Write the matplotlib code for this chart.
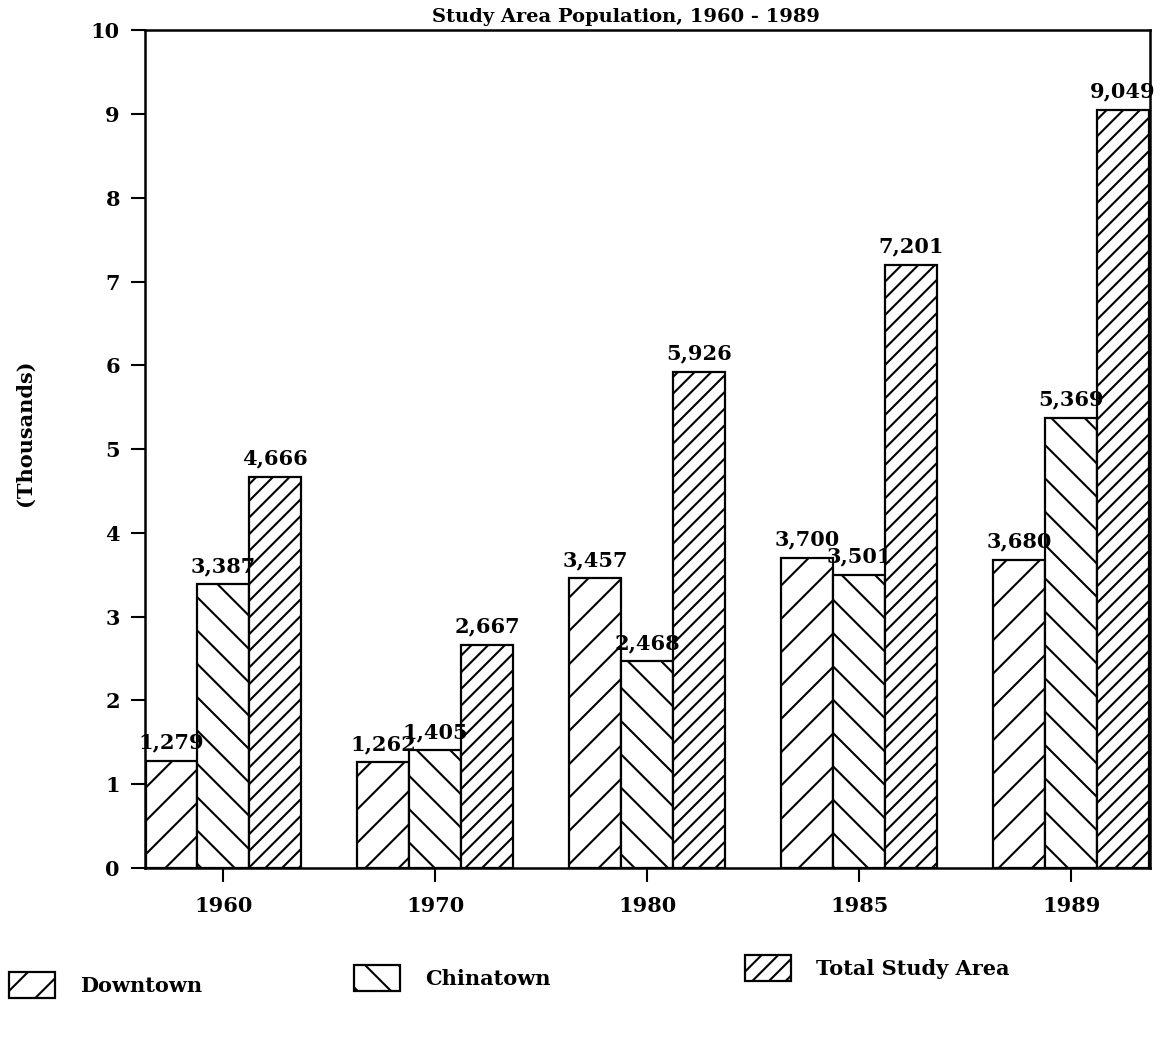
import numpy as np
import matplotlib
matplotlib.use("Agg")
import matplotlib.pyplot as plt
from matplotlib.patches import Patch

# ---- data -------------------------------------------------------------
years = ["1960", "1970", "1980", "1985", "1989"]
downtown = [1279, 1262, 3457, 3700, 3680]
chinatown = [3387, 1405, 2468, 3501, 5369]
total_area = [4666, 2667, 5926, 7201, 9049]
series_names = ["Downtown", "Chinatown", "Total Study Area"]
y_ticks = [0, 1, 2, 3, 4, 5, 6, 7, 8, 9, 10]

hatches = ["/", "\\", "//"]

plt.rcParams["font.family"] = ["DejaVu Serif"]
plt.rcParams["font.weight"] = "bold"
plt.rcParams["hatch.linewidth"] = 1.5
plt.rcParams["hatch.color"] = "black"

fig = plt.figure(figsize=(11.6, 10.42), dpi=100)
ax = fig.add_axes([0.125, 0.167, 0.866, 0.804])

x = np.arange(len(years))
width = 0.245
data = [np.array(downtown), np.array(chinatown), np.array(total_area)]
for i, (vals, h) in enumerate(zip(data, hatches)):
    pos = x + (i - 1) * width
    ax.bar(pos, vals / 1000.0, width=width, facecolor="white",
           edgecolor="black", linewidth=1.6, hatch=h, zorder=2)
    for xp, v in zip(pos, vals):
        ax.annotate(f"{v:,}", (xp, v / 1000.0), xytext=(0, 6),
                    textcoords="offset points", ha="center", va="bottom",
                    fontsize=15, fontweight="bold", zorder=3)

ax.set_xlim(-0.37, 4.37)
ax.set_ylim(0, 10)
ax.set_yticks(y_ticks)
ax.set_yticklabels([str(t) for t in y_ticks], fontsize=15, fontweight="bold")
ax.set_xticks(x)
ax.set_xticklabels(years, fontsize=15, fontweight="bold")
ax.tick_params(axis="y", direction="out", length=10, width=1.5, pad=8)
ax.tick_params(axis="x", direction="out", length=10, width=1.5, pad=10)
for sp in ax.spines.values():
    sp.set_linewidth(1.8)

ax.set_ylabel("(Thousands)", fontsize=15, fontweight="bold")
ax.yaxis.set_label_coords(-0.11, 0.52)

fig.text(0.54, 0.975, "Study Area Population, 1960 - 1989", ha="center",
         va="bottom", fontsize=14, fontweight="bold")

# ---- legend: one entry per series laid out along the bottom ----------
legend_spots = [(0.008, 1 - 985 / 1042), (0.305, 1 - 978 / 1042),
                (0.642, 1 - 968 / 1042)]
for name, h, (lx, ly) in zip(series_names, hatches, legend_spots):
    handle = Patch(facecolor="white", edgecolor="black", linewidth=1.6,
                   hatch=h, label=name)
    fig.legend(handles=[handle], loc="center left", bbox_to_anchor=(lx, ly),
               frameon=False, handlelength=2.2, handleheight=1.5,
               handletextpad=1.2, borderpad=0, borderaxespad=0,
               prop={"weight": "bold", "size": 15})

fig.savefig("out.png", dpi=100, facecolor="white")
